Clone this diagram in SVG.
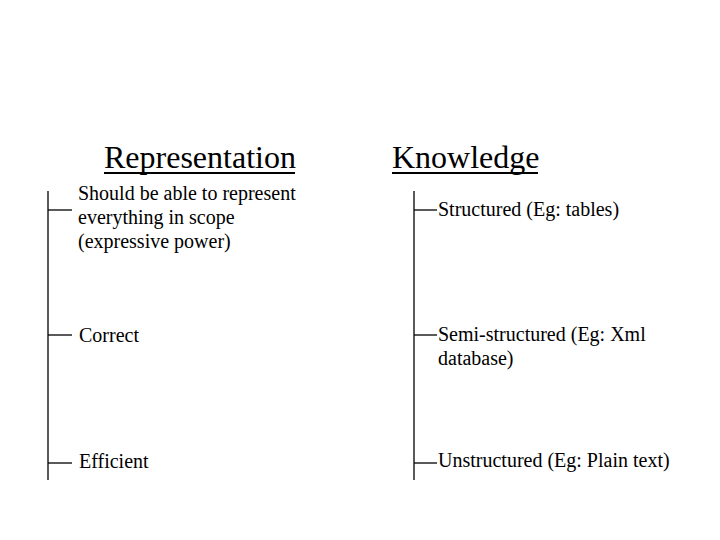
<svg xmlns="http://www.w3.org/2000/svg" width="720" height="540" viewBox="0 0 720 540">
<style>
.h{font-family:"Liberation Serif","Times New Roman",serif;font-size:32px;fill:#000}
.t{font-family:"Liberation Serif","Times New Roman",serif;font-size:20px;fill:#000}
.ln{stroke:#000;stroke-width:1.3;fill:none}
.ul{stroke:#000;stroke-width:2;fill:none}
</style>
<rect width="720" height="540" fill="#fff"/>
<g id="heading-representation">
<text class="h" x="104" y="168">Representation</text>
<line class="ul" x1="104" y1="173" x2="295" y2="173"/>
</g>
<g id="heading-knowledge">
<text class="h" x="392" y="168">Knowledge</text>
<line class="ul" x1="392" y1="173" x2="538" y2="173"/>
</g>
<g id="connectors">
<line class="ln" x1="48" y1="191" x2="48" y2="480"/>
<line class="ln" x1="48" y1="210" x2="72" y2="210"/>
<line class="ln" x1="48" y1="335" x2="72" y2="335"/>
<line class="ln" x1="48" y1="463" x2="72" y2="463"/>
<line class="ln" x1="414" y1="191" x2="414" y2="480"/>
<line class="ln" x1="414" y1="210" x2="437" y2="210"/>
<line class="ln" x1="414" y1="335" x2="437" y2="335"/>
<line class="ln" x1="414" y1="463" x2="437" y2="463"/>
</g>
<g id="item-expressive">
<text class="t" x="78" y="200">Should be able to represent</text>
<text class="t" x="78" y="224">everything in scope</text>
<text class="t" x="78" y="248">(expressive power)</text>
</g>
<g id="item-correct">
<text class="t" x="79" y="342">Correct</text>
</g>
<g id="item-efficient">
<text class="t" x="79" y="468">Efficient</text>
</g>
<g id="item-structured">
<text class="t" x="438" y="216">Structured (Eg: tables)</text>
</g>
<g id="item-semi">
<text class="t" x="438" y="341">Semi-structured (Eg: Xml</text>
<text class="t" x="438" y="365">database)</text>
</g>
<g id="item-unstructured">
<text class="t" x="438" y="467">Unstructured (Eg: Plain text)</text>
</g>
</svg>
